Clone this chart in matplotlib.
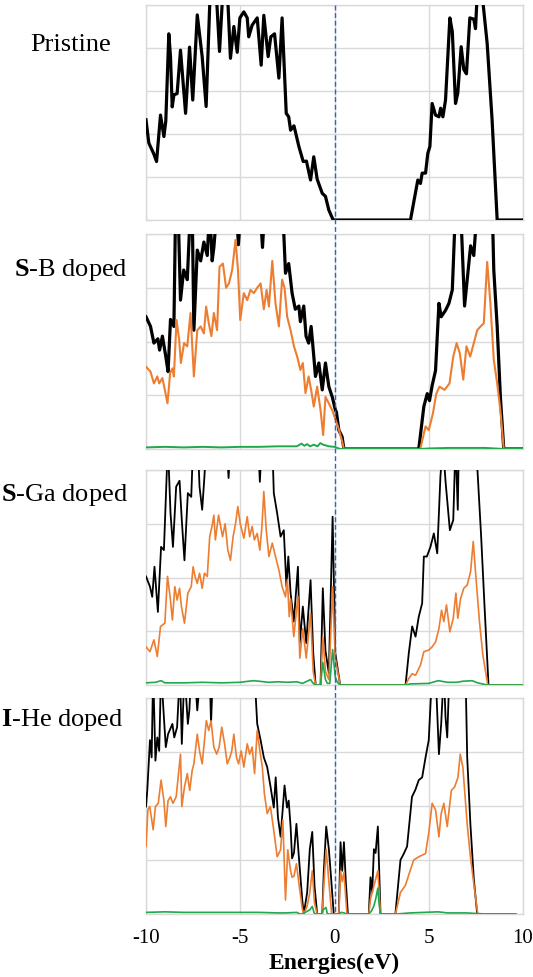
import numpy as np
import matplotlib
matplotlib.use("Agg")
import matplotlib.pyplot as plt
from matplotlib.lines import Line2D

plt.rcParams['font.family'] = ['Liberation Serif', 'DejaVu Serif']
plt.rcParams['mathtext.fontset'] = 'custom'
plt.rcParams['mathtext.rm'] = 'Liberation Serif'
plt.rcParams['mathtext.bf'] = 'Liberation Serif:bold'
plt.rcParams['axes.unicode_minus'] = False

# ---------------- data (energy in eV, DOS in arbitrary units) ----------------
panel_labels = ["Pristine", r"$\mathbf{S}$-B doped", r"$\mathbf{S}$-Ga doped", r"$\mathbf{I}$-He doped"]
x_ticks = [-10, -5, 0, 5, 10]
x_label = "Energies(eV)"

# Pristine total DOS
p1_tot_E = [-10.0, -9.85, -9.6, -9.44, -9.23, -9.05, -8.95, -8.79, -8.70, -8.61, -8.52, -8.35, -8.17, -7.90,
            -7.69, -7.52, -7.28, -7.02, -6.81, -6.58, -6.30, -6.10, -5.90, -5.70, -5.52, -5.34, -5.16, -5.02,
            -4.81, -4.63, -4.55, -4.37, -4.10, -3.89, -3.75, -3.52, -3.38, -3.18, -2.95, -2.78, -2.56, -2.43,
            -2.33, -2.15, -1.89, -1.66, -1.49, -1.27, -1.10, -0.92, -0.65, -0.48, -0.30, -0.07, 3.90, 4.03,
            4.42, 4.56, 4.65, 4.83, 4.95, 5.06, 5.18, 5.36, 5.54, 5.63, 5.75, 5.89, 6.12, 6.25, 6.42, 6.54,
            6.72, 6.86, 7.00, 7.18, 7.39, 7.48, 7.60, 7.80, 7.89, 8.10, 8.36, 8.63, 10.0]
p1_tot = [2.33, 1.79, 1.55, 1.36, 2.44, 1.94, 2.30, 4.33, 3.80, 2.63, 2.91, 2.94, 3.95, 2.48,
          4.02, 2.79, 4.77, 3.80, 2.64, 5.50, 5.50, 3.92, 5.50, 5.50, 3.76, 4.50, 3.90, 4.70,
          4.84, 4.70, 4.26, 4.53, 4.70, 3.60, 4.76, 3.80, 4.26, 4.33, 3.30, 4.70, 2.48, 2.40,
          2.09, 2.19, 1.71, 1.36, 1.37, 0.93, 1.47, 0.95, 0.62, 0.55, 0.23, 0.0, 0.0, 0.0,
          0.93, 0.85, 1.09, 1.09, 1.55, 1.71, 2.71, 2.44, 2.40, 2.60, 2.40, 2.79, 4.70, 4.38, 2.71, 2.95,
          4.03, 3.50, 3.40, 4.70, 4.67, 4.45, 5.50, 5.50, 5.00, 4.10, 2.33, 0.0, 0.0]

# S-B doped
p2_tot_E = [-10.0, -9.76, -9.58, -9.37, -9.28, -9.13, -8.95, -8.83, -8.70, -8.52, -8.43, -8.30, -8.17, -8.00,
            -7.81, -7.64, -7.55, -7.46, -7.28, -7.10, -6.93, -6.75, -6.62, -6.49, -6.40, -6.23, -5.20, -5.10,
            -4.95, -3.95, -3.82, -3.70, -2.75, -2.60, -2.43, -2.25, -2.08, -1.89, -1.81, -1.63, -1.51, -1.37,
            -1.24, -1.10, -1.01, -0.83, -0.65, -0.48, -0.30, -0.12, 0.05, 0.10, 0.23, 0.40, 0.50, 4.47,
            4.74, 4.92, 5.04, 5.18, 5.36, 5.54, 5.66, 5.89, 6.07, 6.25, 6.42, 6.69, 6.90, 7.04, 7.22, 7.39,
            7.57, 8.37, 8.45, 8.63, 8.80, 8.98, 10.0]
p2_tot = [2.46, 2.28, 1.97, 2.05, 1.84, 2.10, 1.72, 1.44, 2.41, 2.28, 4.50, 4.50, 2.77, 3.33,
          3.15, 4.50, 4.50, 2.21, 3.70, 3.50, 3.85, 3.60, 4.50, 3.50, 3.75, 4.50, 4.50, 3.80,
          4.50, 4.50, 3.75, 4.50, 4.50, 3.27, 3.45, 2.90, 2.60, 2.66, 2.37, 2.66, 2.10, 1.97,
          2.28, 1.73, 1.35, 1.60, 1.10, 1.60, 1.16, 0.97, 0.72, 0.69, 0.35, 0.23, 0.0, 0.0,
          0.79, 1.03, 0.90, 1.18, 1.46, 2.71, 2.46, 2.58, 2.71, 2.96, 4.50, 4.50, 2.66, 3.15, 3.78, 3.60,
          4.50, 4.50, 3.33, 2.28, 0.97, 0.0, 0.0]

p2_host_E = [-10.0, -9.76, -9.58, -9.40, -9.30, -9.13, -9.00, -8.86, -8.72, -8.60, -8.52, -8.38, -8.24, -8.15,
             -7.98, -7.81, -7.64, -7.46, -7.28, -7.10, -6.93, -6.81, -6.67, -6.53, -6.40, -6.23, -6.10, -5.92,
             -5.75, -5.60, -5.43, -5.25, -5.12, -5.00, -4.81, -4.63, -4.46, -4.28, -4.10, -3.92, -3.75, -3.60,
             -3.48, -3.30, -3.13, -2.95, -2.78, -2.65, -2.51, -2.33, -2.15, -1.98, -1.81, -1.68, -1.54, -1.37,
             -1.24, -1.10, -0.92, -0.74, -0.60, -0.48, -0.30, -0.12, 0.0, 0.20, 0.40, 0.50, 4.55, 4.83,
             5.00, 5.22, 5.40, 5.57, 5.84, 6.10, 6.30, 6.48, 6.65, 6.83, 7.00, 7.20, 7.39, 7.57, 7.75, 7.92,
             8.10, 8.27, 8.45, 8.63, 8.80, 8.98, 10.0]
p2_host = [1.53, 1.44, 1.22, 1.35, 1.22, 1.32, 1.10, 0.85, 1.41, 1.50, 1.35, 2.40, 2.03, 1.60,
           1.97, 1.91, 2.53, 1.35, 2.21, 2.28, 2.15, 2.65, 2.34, 2.10, 2.53, 2.21, 3.39, 3.45,
           3.00, 3.08, 3.33, 3.89, 3.33, 2.40, 2.90, 2.77, 2.96, 2.90, 3.00, 3.08, 2.60, 2.96,
           2.65, 3.50, 2.71, 2.28, 3.15, 3.00, 2.46, 2.21, 1.91, 1.72, 1.47, 1.60, 1.04, 1.35,
           1.10, 0.79, 1.16, 0.72, 0.26, 0.97, 0.85, 0.72, 0.60, 0.40, 0.15, 0.0, 0.0, 0.42,
           0.35, 0.66, 1.03, 1.16, 1.10, 1.22, 1.72, 1.97, 1.78, 1.29, 1.91, 1.72, 1.97, 2.21, 2.28, 2.34,
           3.48, 2.71, 1.66, 1.22, 0.72, 0.0, 0.0]

p2_dop_E = [-10.0, -9.0, -8.0, -7.0, -6.0, -5.0, -4.0, -3.0, -2.4, -2.0, -1.75, -1.6, -1.45, -1.3, -1.1,
            -0.9, -0.75, -0.6, -0.3, 0.0, 0.3, 4.5, 5.0, 6.0, 7.0, 8.0, 8.5, 9.0, 10.0]
p2_dop = [0.03, 0.04, 0.03, 0.04, 0.03, 0.04, 0.04, 0.05, 0.05, 0.05, 0.10, 0.06, 0.09, 0.05, 0.08,
          0.05, 0.11, 0.08, 0.05, 0.04, 0.0, 0.0, 0.01, 0.02, 0.02, 0.02, 0.01, 0.0, 0.0]

# S-Ga doped
p3_tot_E = [-10.0, -9.79, -9.67, -9.55, -9.37, -9.20, -9.05, -8.84, -8.70, -8.57, -8.40, -8.22, -8.10, -7.96,
            -7.78, -7.60, -7.50, -7.25, -7.16, -7.02, -6.90, -6.80, -5.72, -5.62, -5.52, -4.05, -3.96, -3.86,
            -3.30, -3.22, -3.04, -2.86, -2.69, -2.55, -2.45, -2.33, -2.16, -1.94, -1.84, -1.68, -1.50, -1.27,
            -1.13, -1.00, -0.74, -0.62, -0.48, -0.30, -0.10, 0.04, 0.30, 3.77, 3.94, 4.12, 4.30, 4.47, 4.65,
            4.74, 4.90, 5.09, 5.27, 5.45, 5.62, 5.75, 5.89, 6.12, 6.30, 6.42, 6.54, 6.60, 7.50, 7.60, 7.78,
            7.96, 8.17, 10.0]
p3_tot = [2.02, 1.83, 1.64, 2.20, 1.36, 2.57, 2.51, 4.50, 3.20, 2.57, 3.69, 3.80, 3.06, 2.32,
          3.57, 3.50, 4.50, 4.50, 3.69, 3.26, 3.88, 4.50, 4.50, 3.85, 4.50, 4.50, 3.78, 4.50,
          4.50, 3.57, 3.19, 2.76, 2.88, 1.83, 2.39, 1.71, 1.18, 2.20, 0.78, 1.46, 0.78, 1.95,
          0.60, 0.0, 0.0, 1.80, 0.64, 0.22, 3.13, 0.60, 0.0, 0.0, 0.59, 1.09, 0.90, 1.27, 1.52,
          2.39, 2.39, 2.57, 2.82, 2.45, 3.88, 4.50, 3.79, 2.88, 3.07, 4.50, 3.26, 4.50, 4.50, 3.90, 2.76,
          1.46, 0.0, 0.0]

p3_host_E = [-10.0, -9.79, -9.58, -9.40, -9.23, -9.00, -8.86, -8.72, -8.60, -8.47, -8.35, -8.22, -8.12, -7.96,
             -7.78, -7.60, -7.50, -7.40, -7.28, -7.16, -7.02, -6.90, -6.75, -6.62, -6.50, -6.40, -6.32, -6.15,
             -5.94, -5.80, -5.66, -5.52, -5.38, -5.25, -5.13, -5.00, -4.81, -4.63, -4.50, -4.37, -4.25, -4.10,
             -3.96, -3.85, -3.75, -3.62, -3.48, -3.30, -3.13, -2.95, -2.78, -2.60, -2.50, -2.40, -2.33, -2.16,
             -1.94, -1.84, -1.68, -1.50, -1.27, -1.13, -1.00, -0.74, -0.62, -0.48, -0.30, -0.10, 0.04, 0.30,
             3.77, 3.94, 4.12, 4.30, 4.56, 4.74, 5.00, 5.18, 5.36, 5.54, 5.68, 5.80, 5.94, 6.12, 6.30, 6.44,
             6.54, 6.69, 6.86, 7.04, 7.22, 7.36, 7.48, 7.69, 7.87, 8.13, 10.0]
p3_host = [0.71, 0.62, 0.84, 0.53, 1.09, 1.15, 2.02, 1.64, 1.21, 1.83, 1.58, 1.80, 1.46, 1.15,
           1.71, 1.83, 2.20, 2.02, 1.89, 2.08, 1.80, 2.08, 2.02, 2.76, 2.95, 3.16, 2.70, 3.16,
           2.76, 3.00, 2.51, 2.32, 2.76, 3.00, 3.32, 3.00, 2.73, 3.13, 2.76, 2.95, 2.70, 2.82,
           2.51, 2.95, 3.60, 2.88, 2.39, 2.64, 2.39, 2.14, 1.83, 1.64, 1.96, 1.27, 1.60, 0.90,
           1.65, 0.50, 1.05, 0.50, 1.33, 0.25, 0.0, 0.0, 0.90, 0.25, 0.10, 1.83, 0.50, 0.0,
           0.0, 0.12, 0.21, 0.18, 0.37, 0.62, 0.65, 0.71, 0.80, 1.05, 1.39, 1.18, 1.49, 0.99, 1.24, 1.71,
           1.24, 1.61, 1.80, 1.86, 2.11, 2.67, 2.11, 1.18, 0.56, 0.0, 0.0]

p3_dop_E = [-10.0, -9.5, -9.2, -9.0, -8.0, -7.0, -6.0, -5.0, -4.8, -4.3, -4.0, -3.5, -3.0, -2.5, -2.0, -1.7,
            -1.4, -1.27, -1.13, -1.0, -0.74, -0.62, -0.48, -0.38, -0.25, -0.10, 0.04, 0.15, 0.30, 3.80, 4.0,
            5.0, 5.5, 6.0, 6.5, 6.8, 7.3, 7.6, 8.1, 10.0]
p3_dop = [0.04, 0.05, 0.08, 0.04, 0.04, 0.05, 0.04, 0.05, 0.06, 0.08, 0.07, 0.05, 0.06, 0.05, 0.06, 0.03,
          0.08, 0.10, 0.03, 0.0, 0.0, 0.42, 0.10, 0.03, 0.03, 0.66, 0.15, 0.05, 0.0, 0.0, 0.02,
          0.03, 0.08, 0.05, 0.05, 0.07, 0.08, 0.04, 0.0, 0.0]

# I-He doped
p4_tot_E = [-10.0, -9.93, -9.79, -9.70, -9.62, -9.50, -9.40, -9.30, -9.20, -9.05, -8.95, -8.83, -8.60, -8.50,
            -8.35, -8.20, -8.10, -7.96, -7.78, -7.70, -7.60, -7.42, -7.28, -7.10, -6.62, -6.55, -6.45, -4.25,
            -4.10, -3.92, -3.75, -3.57, -3.39, -3.22, -3.12, -3.00, -2.86, -2.65, -2.52, -2.43, -2.33, -2.25,
            -2.15, -2.02, -1.90, -1.71, -1.63, -1.45, -1.31, -1.18, -1.06, -0.92, -0.65, -0.57, -0.44, -0.30,
            -0.21, -0.04, 0.23, 0.32, 0.41, 0.50, 0.60, 0.71, 1.82, 1.91, 2.00, 2.09, 2.18, 2.30, 2.44, 3.23,
            3.50, 3.68, 3.85, 4.11, 4.29, 4.47, 4.65, 4.83, 5.00, 5.18, 5.36, 5.54, 5.66, 5.80, 5.89, 5.98,
            6.10, 6.95, 7.04, 7.21, 7.39, 7.57, 9.60]
p4_tot = [1.99, 2.30, 3.22, 2.90, 4.50, 2.84, 3.27, 3.02, 4.50, 3.64, 3.09, 3.33, 3.52, 3.27,
          3.46, 4.50, 3.15, 4.50, 3.52, 3.77, 4.50, 4.50, 3.77, 4.50, 4.50, 3.52, 4.50, 4.50,
          3.52, 3.22, 2.90, 2.72, 2.35, 1.97, 2.53, 1.79, 1.43, 2.38, 1.97, 2.10, 1.62, 1.03,
          1.13, 1.67, 1.10, 0.26, 0.0, 0.40, 1.20, 1.52, 0.52, 0.0, 0.0, 0.77, 1.62, 1.20,
          0.80, 0.0, 0.0, 1.33, 0.80, 1.33, 0.60, 0.0, 0.0, 0.68, 0.40, 1.20, 1.13, 1.62, 0.0, 0.0,
          1.00, 1.12, 1.25, 2.17, 2.30, 2.48, 2.53, 2.90, 3.22, 4.50, 4.50, 2.96, 3.52, 4.50, 3.64, 3.27,
          4.50, 4.50, 2.90, 1.66, 0.65, 0.0, 0.0]

p4_host_E = [-10.0, -9.90, -9.80, -9.62, -9.50, -9.35, -9.20, -9.05, -8.95, -8.83, -8.70, -8.57, -8.40, -8.17,
             -8.10, -7.96, -7.81, -7.68, -7.55, -7.46, -7.28, -7.16, -7.02, -6.90, -6.80, -6.67, -6.55, -6.40,
             -6.25, -6.12, -5.98, -5.83, -5.69, -5.55, -5.45, -5.34, -5.20, -5.09, -4.95, -4.81, -4.63, -4.50,
             -4.37, -4.24, -4.10, -3.96, -3.83, -3.72, -3.57, -3.40, -3.25, -3.04, -2.86, -2.74, -2.60, -2.48,
             -2.33, -2.25, -2.15, -2.02, -1.90, -1.71, -1.63, -1.45, -1.31, -1.18, -1.06, -0.92, -0.65, -0.57,
             -0.44, -0.30, -0.15, 0.23, 0.32, 0.41, 0.50, 0.66, 1.82, 1.91, 2.09, 2.30, 2.44, 3.23, 3.50, 3.76,
             4.02, 4.20, 4.47, 4.83, 5.00, 5.18, 5.36, 5.54, 5.66, 5.80, 5.98, 6.10, 6.20, 6.37, 6.55, 6.67,
             6.81, 7.04, 7.21, 7.39, 7.60, 9.60]
p4_host = [1.25, 1.93, 1.99, 1.56, 1.99, 2.05, 2.48, 2.10, 1.62, 2.10, 2.17, 2.05, 2.17, 2.96,
           1.99, 2.35, 2.60, 2.29, 2.66, 2.78, 3.33, 3.02, 2.78, 3.21, 3.58, 3.40, 3.58, 3.09,
           2.96, 3.09, 3.46, 3.15, 2.78, 2.90, 3.02, 3.33, 2.90, 2.78, 3.02, 2.72, 3.15, 2.96,
           3.09, 2.60, 3.40, 3.02, 2.72, 2.23, 1.86, 1.99, 1.62, 1.06, 1.19, 1.74, 0.26, 1.19,
           0.80, 0.68, 0.70, 0.93, 0.60, 0.10, 0.0, 0.15, 0.40, 0.80, 0.20, 0.0, 0.0, 0.52,
           1.20, 0.60, 0.0, 0.0, 0.80, 0.60, 0.77, 0.0, 0.0, 0.28, 0.52, 0.80, 0.0, 0.0, 0.40, 0.53,
           0.81, 1.00, 1.06, 1.12, 1.50, 2.05, 1.93, 1.43, 1.86, 2.05, 1.62, 1.99, 2.29, 2.35, 2.53, 2.96,
           2.72, 1.66, 1.06, 0.56, 0.0, 0.0]

p4_dop_E = [-10.0, -9.0, -8.0, -7.0, -6.0, -5.0, -4.0, -3.0, -2.6, -2.0, -1.84, -1.70, -1.55, -1.30, -1.18,
            -1.08, -1.00, -0.70, -0.60, -0.45, -0.38, 0.25, 0.35, 0.50, 0.64, 1.82, 1.95, 2.09, 2.18, 2.30, 2.36,
            2.44, 3.30, 4.0, 5.5, 6.0, 7.0, 8.0, 9.6]
p4_dop = [0.03, 0.04, 0.03, 0.03, 0.03, 0.03, 0.03, 0.02, 0.02, 0.03, 0.0, 0.0, 0.03, 0.08, 0.14,
          0.02, 0.0, 0.0, 0.08, 0.12, 0.0, 0.0, 0.03, 0.02, 0.0, 0.0, 0.05, 0.15, 0.27, 0.48, 0.20,
          0.0, 0.0, 0.02, 0.04, 0.02, 0.02, 0.0, 0.0]

# ---------------- figure ----------------
W, H = 533, 977
fig = plt.figure(figsize=(W / 100, H / 100), dpi=100)

left_px, right_px = 146, 523
panel_px = [(5, 220), (234, 449), (470, 685), (698, 914)]
ymax = [5, 4, 4, 4]

c_black = "#000000"
c_orange = "#ED7D31"
c_green = "#1FA84C"
c_grid = "#D9D9D9"
c_blue = "#2A62D6"

series = [
    [(p1_tot_E, p1_tot, c_black, 2.3)],
    [(p2_tot_E, p2_tot, c_black, 2.3), (p2_host_E, p2_host, c_orange, 1.5), (p2_dop_E, p2_dop, c_green, 1.4)],
    [(p3_tot_E, p3_tot, c_black, 1.3), (p3_host_E, p3_host, c_orange, 1.2), (p3_dop_E, p3_dop, c_green, 1.2)],
    [(p4_tot_E, p4_tot, c_black, 1.3), (p4_host_E, p4_host, c_orange, 1.2), (p4_dop_E, p4_dop, c_green, 1.2)],
]
label_pos = [(71, 45), (71, 270), (64, 495), (62, 720)]

axes = []
for i, (top, bot) in enumerate(panel_px):
    ax = fig.add_axes([left_px / W, 1 - bot / H, (right_px - left_px) / W, (bot - top) / H])
    axes.append(ax)
    ax.set_xlim(-10, 10)
    ax.set_ylim(0, ymax[i])
    ax.set_xticks(x_ticks)
    ax.set_yticks(range(0, ymax[i] + 1))
    ax.grid(True, color=c_grid, lw=1.0)
    ax.set_axisbelow(True)
    for s in ax.spines.values():
        s.set_color(c_grid)
        s.set_linewidth(1.0)
    ax.tick_params(length=0, labelleft=False, labelbottom=(i == 3), labelsize=15, pad=11)
    for E, y, col, lw in series[i]:
        ax.plot(E, y, color=col, lw=lw, solid_joinstyle='round', clip_on=True, zorder=3)
    fig.text(label_pos[i][0] / W, 1 - label_pos[i][1] / H, panel_labels[i], fontsize=19,
             ha='center', va='center')

axes[3].set_xlabel(x_label, fontsize=17, fontweight='bold', labelpad=3)

# Fermi-level dashed line across all panels
x0 = (left_px + (0 - (-10)) / 20 * (right_px - left_px)) / W
fig.add_artist(Line2D([x0, x0], [1 - 5 / H, 1 - 914 / H], transform=fig.transFigure,
                      color=c_blue, lw=1.0, ls=(0, (3.5, 2)), zorder=5))

fig.savefig("out.png", dpi=100)
